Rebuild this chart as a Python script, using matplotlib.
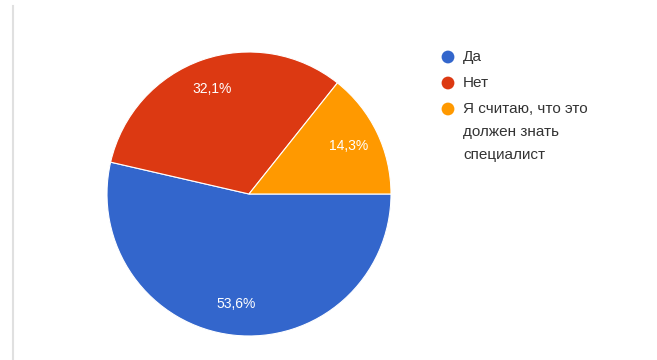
import matplotlib
matplotlib.use("Agg")
import matplotlib.pyplot as plt

labels = ["Да", "Нет", "Я считаю, что это\nдолжен знать\nспециалист"]
shares = [53.6, 32.1, 14.3]
colors = ["#3366CC", "#DC3912", "#FF9900"]

W, H = 657, 360
fig = plt.figure(figsize=(W / 100, H / 100), dpi=100)
fig.patch.set_facecolor("white")
plt.rcParams["font.family"] = ["Liberation Sans", "DejaVu Sans"]

# pie area: center (249, 194), radius 142 px
cx, cy, r = 249, 194, 142
ax = fig.add_axes([(cx - r) / W, (H - cy - r) / H, 2 * r / W, 2 * r / H])
wedges, texts, autotexts = ax.pie(
    shares, colors=colors, startangle=0, counterclock=False,
    autopct=lambda p: f"{p:.1f}%".replace(".", ","), pctdistance=0.78,
    wedgeprops=dict(edgecolor="white", linewidth=0.8),
    textprops=dict(color="white", fontsize=10),
)
ax.set_xlim(-1, 1)
ax.set_ylim(-1, 1)
ax.set_aspect("equal")
ax.axis("off")

# overlay in pixel coordinates for the legend and the frame line
ov = fig.add_axes([0, 0, 1, 1])
ov.set_xlim(0, W)
ov.set_ylim(H, 0)
ov.axis("off")
ov.patch.set_alpha(0)
ov.plot([12.5, 12.5], [6, H], color="#e0e0e0", lw=1.5)

legend_y = [57, 83, 109]
line_step = 23
for lab, col, y in zip(labels, colors, legend_y):
    ov.scatter([448], [y], s=85, color=col, edgecolors="none")
    for i, line in enumerate(lab.split("\n")):
        ov.text(463, y + i * line_step, line, color="#333333", fontsize=11,
                va="center", ha="left")

fig.savefig("out.png", dpi=100, facecolor="white")
